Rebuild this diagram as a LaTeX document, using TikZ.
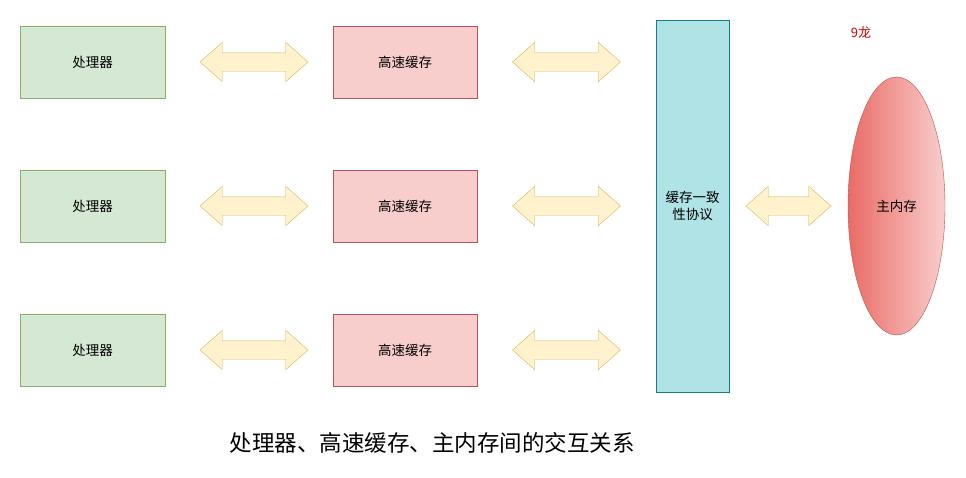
\documentclass[tikz,border=0pt]{standalone}
\usepackage{fontspec}
\setmainfont{Noto Sans CJK SC}
\usepackage{tikz}
\usetikzlibrary{shapes.geometric, shapes.arrows, arrows.meta, positioning, calc}
\usepackage{xcolor}

\definecolor{procfill}{HTML}{D5E8D4}
\definecolor{procdraw}{HTML}{82B366}
\definecolor{cachefill}{HTML}{F8CECC}
\definecolor{cachedraw}{HTML}{B85450}
\definecolor{arrfill}{HTML}{FFF2CC}
\definecolor{arrdraw}{HTML}{D6B656}
\definecolor{cohfill}{HTML}{B0E3E6}
\definecolor{cohdraw}{HTML}{0E8088}
\definecolor{memdark}{HTML}{EA6B66}

\begin{document}
\begin{tikzpicture}[
    x=1pt, y=-1pt,
    procbox/.style = {rectangle, draw=procdraw, fill=procfill, minimum width=145pt, minimum height=72pt, inner sep=0pt, font=\fontsize{13.5}{16}\selectfont},
    cachebox/.style = {rectangle, draw=cachedraw, fill=cachefill, minimum width=144pt, minimum height=72pt, inner sep=0pt, font=\fontsize{13.5}{16}\selectfont},
    dblarrow/.style = {double arrow, draw=arrdraw, fill=arrfill, inner xsep=0pt, inner ysep=9pt, minimum width=39pt, double arrow head extend=10.5pt, double arrow tip angle=83, minimum height=108pt}
]

\useasboundingbox (0,0) rectangle (966,477);

% Nodes
\node (n_proc1) [procbox] at (92.5,62) {处理器};
\node (n_proc2) [procbox] at (92.5,206) {处理器};
\node (n_proc3) [procbox] at (92.5,350) {处理器};

\node (n_cache1) [cachebox] at (405,62) {高速缓存};
\node (n_cache2) [cachebox] at (405,206) {高速缓存};
\node (n_cache3) [cachebox] at (405,350) {高速缓存};

\node (n_coh) [rectangle, draw=cohdraw, fill=cohfill, minimum width=73pt, minimum height=372pt, inner sep=0pt, align=center, font=\fontsize{13.5}{17}\selectfont] at (692.5,206) {缓存一致\\性协议};

\node (n_mem) [ellipse, draw=cachedraw, left color=memdark, right color=cachefill, minimum width=97pt, minimum height=258pt, inner sep=0pt, font=\fontsize{13.5}{16}\selectfont] at (896.5,206) {主内存};

\node (n_mark) [text=red!85!black, font=\fontsize{13}{15}\selectfont] at (861,32) {9龙};

\node (n_cap) [font=\fontsize{22.5}{26}\selectfont] at (432,443) {处理器、高速缓存、主内存间的交互关系};

% Connections
\path (n_proc1) -- node[dblarrow, xshift=5pt]{} (n_cache1);
\path (n_proc2) -- node[dblarrow, xshift=5pt]{} (n_cache2);
\path (n_proc3) -- node[dblarrow, xshift=5pt]{} (n_cache3);
\path (n_cache1.east) -- node[dblarrow]{} (n_cache1.east -| n_coh.west);
\path (n_cache2) -- node[dblarrow]{} (n_coh);
\path (n_cache3.east) -- node[dblarrow]{} (n_cache3.east -| n_coh.west);
\path (n_coh) -- node[dblarrow, minimum height=85pt]{} (n_mem);

\end{tikzpicture}
\end{document}
